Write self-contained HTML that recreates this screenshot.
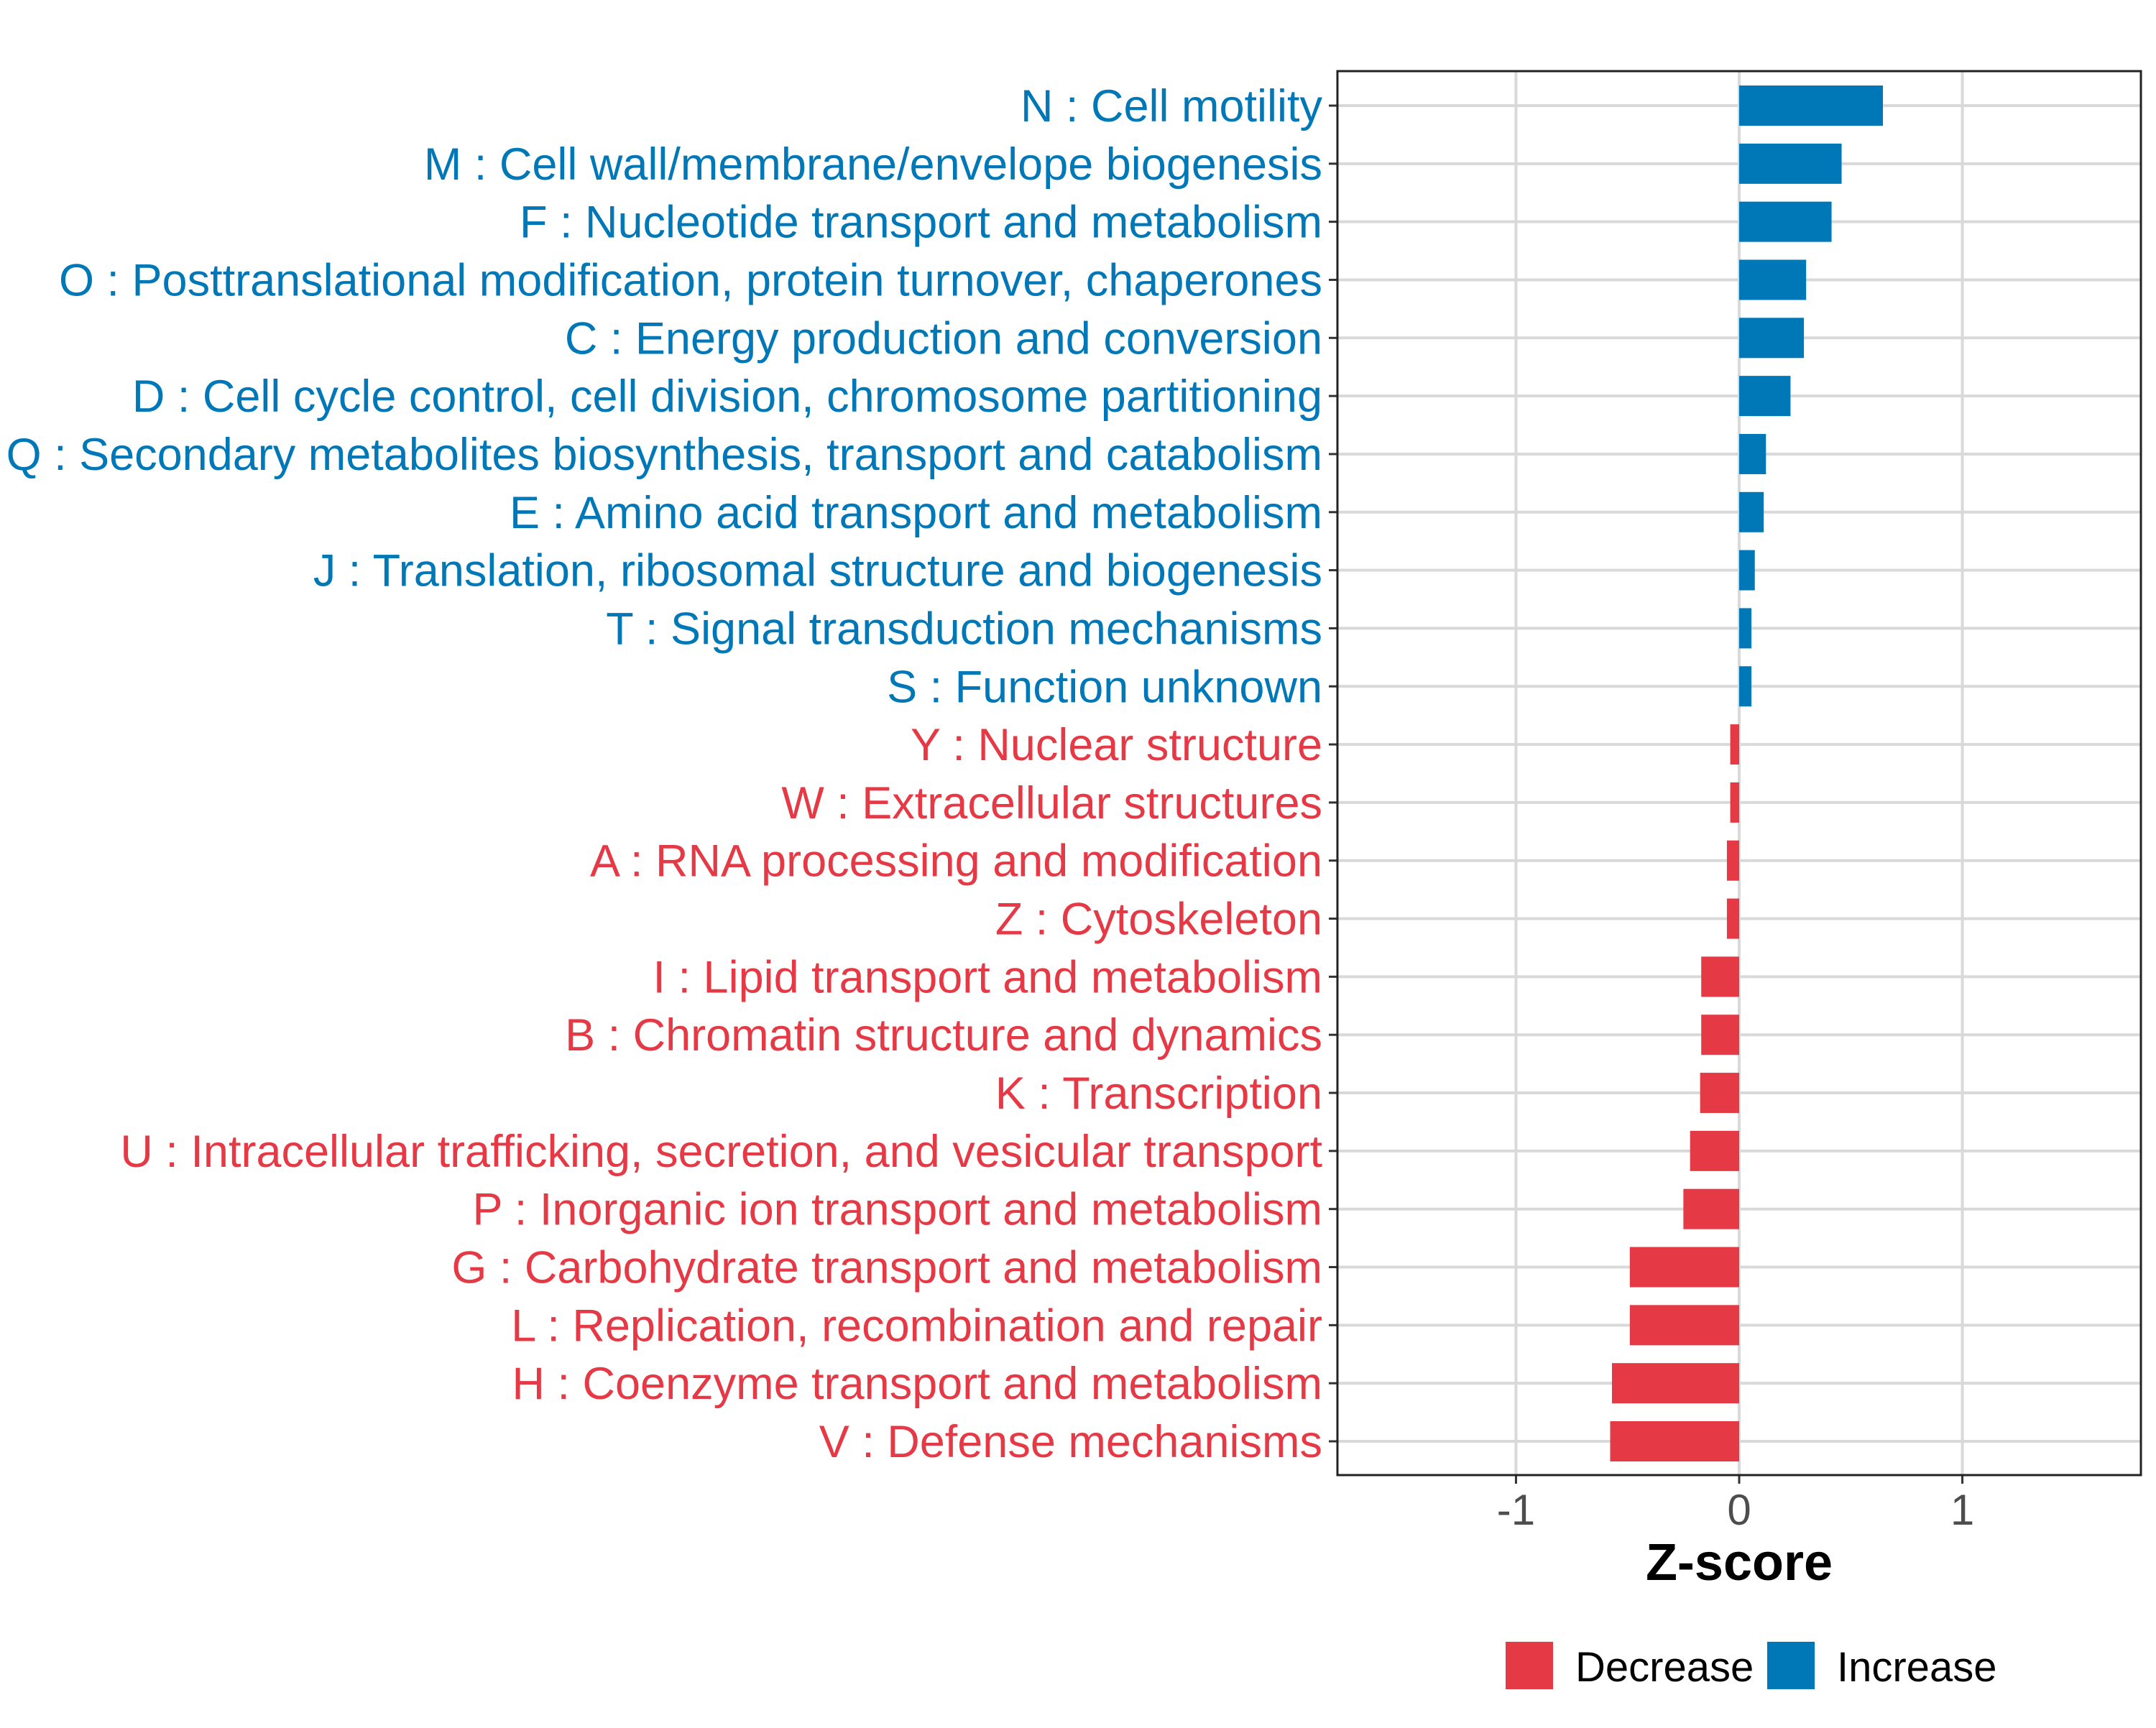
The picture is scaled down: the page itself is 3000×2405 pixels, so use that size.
<!DOCTYPE html>
<html><head><meta charset="utf-8"><style>
html,body{margin:0;padding:0;background:#fff;}
svg text{font-family:"Liberation Sans",sans-serif;}
</style></head><body>
<svg id="chart" width="3000" height="2400" xmlns="http://www.w3.org/2000/svg">
<rect width="3000" height="2400" fill="#fff"/>
<g id="grid"></g><g id="bars"></g><g id="labels"></g><g id="axis"></g>
</svg>
<script>
const categories=["N : Cell motility","M : Cell wall/membrane/envelope biogenesis","F : Nucleotide transport and metabolism","O : Posttranslational modification, protein turnover, chaperones","C : Energy production and conversion","D : Cell cycle control, cell division, chromosome partitioning","Q : Secondary metabolites biosynthesis, transport and catabolism","E : Amino acid transport and metabolism","J : Translation, ribosomal structure and biogenesis","T : Signal transduction mechanisms","S : Function unknown","Y : Nuclear structure","W : Extracellular structures","A : RNA processing and modification","Z : Cytoskeleton","I : Lipid transport and metabolism","B : Chromatin structure and dynamics","K : Transcription","U : Intracellular trafficking, secretion, and vesicular transport","P : Inorganic ion transport and metabolism","G : Carbohydrate transport and metabolism","L : Replication, recombination and repair","H : Coenzyme transport and metabolism","V : Defense mechanisms"];
const zscores=[0.644,0.459,0.414,0.30,0.29,0.23,0.12,0.11,0.07,0.055,0.055,-0.04,-0.04,-0.055,-0.055,-0.17,-0.17,-0.175,-0.22,-0.25,-0.49,-0.49,-0.57,-0.578];
const xTicks=[-1,0,1];
const xTickLabels=["-1","0","1"];
const NS="http://www.w3.org/2000/svg";
const L=1861,R=2979,T=99,B=2053,xmin=-1.8,xmax=1.8;
const x=v=>L+(v-xmin)/(xmax-xmin)*(R-L);
const y0=147,step=(2006-147)/23;
const y=i=>y0+i*step;
const BLUE="#0078b8",RED="#e63946";
function mk(tag,attrs,parent){const e=document.createElementNS(NS,tag);for(const k in attrs)e.setAttribute(k,attrs[k]);parent.appendChild(e);return e;}
const grid=document.getElementById('grid'),bars=document.getElementById('bars'),labels=document.getElementById('labels'),axis=document.getElementById('axis');
xTicks.forEach((t,i)=>{
 const g=mk('line',{x1:x(t),x2:x(t),y1:T,y2:B,stroke:"#d9d9d9","stroke-width":4},grid);
 
 
 const tk=mk('line',{x1:x(t),x2:x(t),y1:B,y2:B+12,stroke:"#333","stroke-width":3},axis);
 
 
 const tl=mk('text',{x:x(t),y:2122,"text-anchor":"middle","font-size":60,fill:"#4d4d4d"},axis);
 tl.textContent=xTickLabels[i];
 
 
});
categories.forEach((c,i)=>{
 const yy=y(i),v=zscores[i],col=v>=0?BLUE:RED;
 const g=mk('line',{x1:L,x2:R,y1:yy,y2:yy,stroke:"#d9d9d9","stroke-width":4},grid);
 
 
 const b=mk('rect',{x:Math.min(x(0),x(v)),y:yy-28,width:Math.abs(x(v)-x(0)),height:56,fill:col},bars);
 
 
 const tk=mk('line',{x1:L-12,x2:L,y1:yy,y2:yy,stroke:"#333","stroke-width":3},axis);
 
 
 const t=mk('text',{x:1840,y:yy+22,"text-anchor":"end","font-size":63,fill:col},labels);
 t.textContent=c;
 
 
});
const fr=mk('rect',{x:L,y:T,width:R-L,height:B-T,fill:"none",stroke:"#222","stroke-width":3},axis);


const xt=mk('text',{x:x(0),y:2199,"text-anchor":"middle","font-size":72,"font-weight":"bold",fill:"#000"},axis);
xt.textContent="Z-score";


const legendLabels=["Decrease","Increase"],legendColors=[RED,BLUE],legendX=[2095,2459];
legendLabels.forEach((l,i)=>{
 const k=mk('rect',{x:legendX[i],y:2285,width:66,height:66,fill:legendColors[i]},axis);
 
 
 const t=mk('text',{x:legendX[i]+97,y:2340,"font-size":58,fill:"#000"},axis);
 t.textContent=l;
 
 
});
</script>
</body></html>
